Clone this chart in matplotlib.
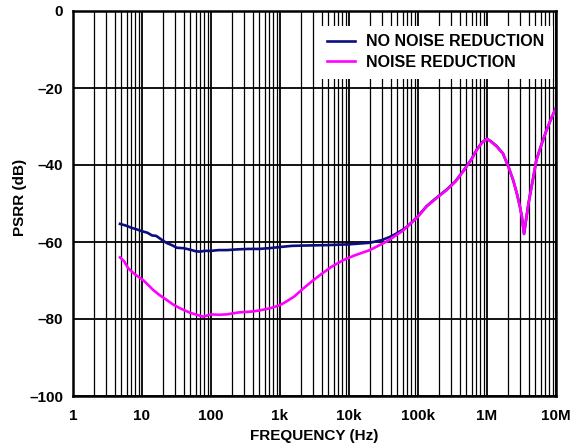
import numpy as np
import matplotlib
matplotlib.use("Agg")
import matplotlib.pyplot as plt
from matplotlib.ticker import FixedLocator, NullFormatter

plt.rcParams['font.family'] = ['Liberation Sans', 'DejaVu Sans']
plt.rcParams['font.weight'] = 'bold'

# ---- data ----
nnr_freq = [4.8, 6, 7, 8, 10, 12, 14, 16, 20, 23, 27, 32, 40, 50, 60, 70, 80, 100,
            130, 170, 250, 350, 500, 700, 1000, 1500, 2500, 5000, 10000, 20000,
            30000, 40000, 50000, 60000, 70000, 100000, 133000, 180000, 260000,
            350000, 450000, 600000, 710000, 850000, 1000000, 1150000, 1380000,
            1700000, 2040000, 2400000, 2700000, 3000000, 3200000, 3440000,
            3700000, 4000000, 4600000, 5200000, 6200000, 7300000, 8500000, 9900000]
nnr_db = [-55.3, -55.8, -56.3, -56.6, -57.2, -57.6, -58.3, -58.4, -59.6, -60.3,
          -60.8, -61.5, -61.6, -62.0, -62.4, -62.5, -62.3, -62.3, -62.1, -62.1,
          -61.9, -61.8, -61.8, -61.6, -61.3, -61.0, -60.9, -60.8, -60.6, -60.2,
          -59.5, -58.6, -57.7, -56.8, -56.0, -53.3, -50.7, -48.7, -46.4, -44.2,
          -41.6, -38.4, -36.0, -34.1, -33.2, -33.9, -35.1, -37.0, -40.4, -44.0,
          -47.3, -50.8, -53.4, -57.9, -54.0, -49.9, -44.0, -38.7, -34.5, -30.9,
          -28.0, -25.3]

nr_freq = [4.8, 5.5, 6.3, 8, 10.4, 12.5, 14.6, 18, 23, 28, 35.5, 50, 65, 77, 100,
           130, 170, 250, 370, 500, 720, 1000, 1250, 1600, 2200, 3000, 3800, 5500,
           8300, 12000, 20000, 35000, 60000, 100000, 133000, 180000, 260000,
           350000, 450000, 600000, 710000, 850000, 1000000, 1150000, 1380000,
           1700000, 2040000, 2400000, 2700000, 3000000, 3200000, 3440000,
           3700000, 4000000, 4600000, 5200000, 6200000, 7300000, 8500000, 9900000]
nr_db = [-64.0, -65.0, -66.8, -68.5, -69.9, -71.3, -72.5, -73.8, -75.1, -76.2,
         -77.2, -78.4, -79.0, -79.4, -78.8, -78.9, -78.8, -78.3, -78.1, -77.8,
         -77.2, -76.4, -75.4, -74.2, -72.0, -70.0, -68.6, -66.5, -64.7, -63.5,
         -62.1, -59.9, -57.1, -53.4, -50.8, -48.8, -46.5, -44.3, -41.7, -38.5,
         -36.1, -34.2, -33.2, -34.0, -35.2, -37.0, -40.4, -44.0, -47.3, -50.8,
         -53.4, -57.9, -54.0, -49.9, -44.0, -38.7, -34.5, -30.9, -28.0, -25.3]

x_ticks = [1, 10, 100, 1e3, 1e4, 1e5, 1e6, 1e7]
x_labels = ['1', '10', '100', '1k', '10k', '100k', '1M', '10M']
y_ticks = [0, -20, -40, -60, -80, -100]
y_labels = ['0', '\u201320', '\u201340', '\u201360', '\u201380', '\u2013100']
series_labels = ['NO NOISE REDUCTION', 'NOISE REDUCTION']

fig = plt.figure(figsize=(5.76, 4.46), dpi=100)
ax = fig.add_axes([73/576, 50/446, 483/576, 385/446])

ax.set_xscale('log')
ax.set_xlim(1, 1e7)
ax.set_ylim(-100, 0)

# grid
minor = [m * 10**d for d in range(0, 7) for m in range(2, 10)]
ax.xaxis.set_minor_locator(FixedLocator(minor))
ax.xaxis.set_minor_formatter(NullFormatter())
ax.set_xticks(x_ticks)
ax.set_xticklabels(x_labels)
ax.set_yticks(y_ticks)
ax.set_yticklabels(y_labels)
ax.grid(True, which='major', axis='both', color='black', lw=1.3)
ax.grid(True, which='minor', axis='x', color='black', lw=0.9)
ax.tick_params(axis='x', which='both', length=0, labelsize=11, pad=9)
ax.tick_params(axis='y', which='both', length=0, labelsize=11, pad=7)
for lab in ax.get_xticklabels() + ax.get_yticklabels():
    lab.set_fontweight('bold')
for s in ax.spines.values():
    s.set_linewidth(1.8)

l1, = ax.plot(nnr_freq, nnr_db, color='#0d0d80', lw=1.9, label=series_labels[0])
l2, = ax.plot(nr_freq, nr_db, color='#ff00ff', lw=1.9, label=series_labels[1])

leg = ax.legend(handles=[l1, l2], loc='upper right', bbox_to_anchor=(0.994, 0.962),
                frameon=True, fancybox=False, framealpha=1, facecolor='white',
                edgecolor='none', prop={'weight': 'bold', 'size': 11.5},
                handlelength=1.75, handletextpad=0.7, labelspacing=0.35,
                borderpad=0.55, borderaxespad=0.0)
leg.set_zorder(5)

ax.set_xlabel('FREQUENCY (Hz)', fontsize=11, fontweight='bold')
ax.xaxis.set_label_coords(0.5, -0.085)
ax.set_ylabel('PSRR (dB)', fontsize=11, fontweight='bold')
ax.yaxis.set_label_coords(-0.095, 0.515)

fig.savefig('out.png', dpi=100)
